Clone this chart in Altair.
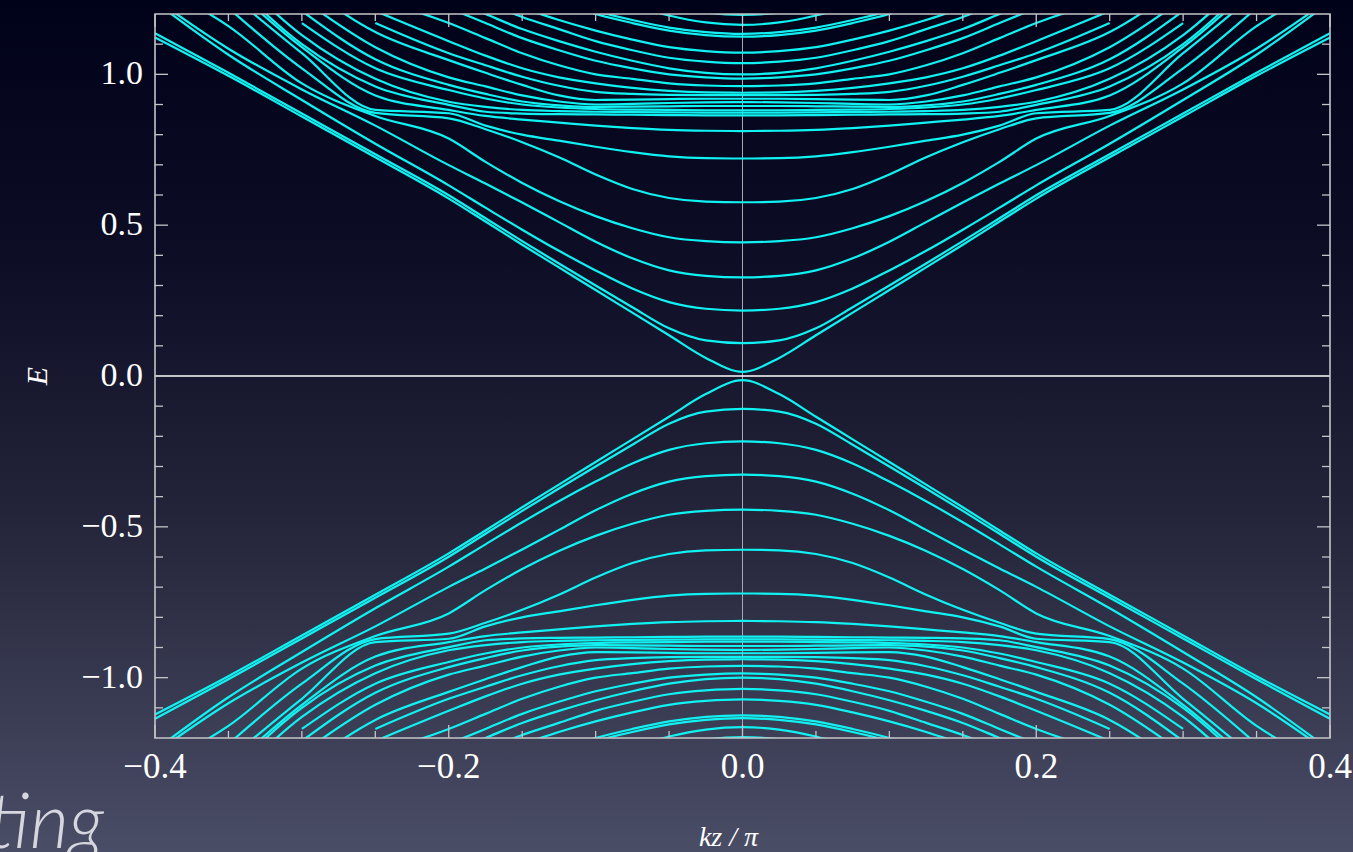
import altair as alt
import pandas as pd

# kz / pi sample points (the spectrum is mirrored to negative kz)
KZ = [0.0, 0.025, 0.05, 0.075, 0.1, 0.125, 0.15, 0.175, 0.2, 0.25, 0.3, 0.35, 0.4]

# Sorted positive eigen-energies at each KZ point (band n = n-th level above E = 0).
# The spectrum is particle-hole symmetric, so the negative branch is -E.
BANDS = [
    [0.014, 0.06, 0.135, 0.21, 0.285, 0.36, 0.435, 0.512, 0.588, 0.725, 0.86, 0.995, 1.122],
    [0.109, 0.118, 0.158, 0.228, 0.30, 0.373, 0.447, 0.523, 0.599, 0.735, 0.87, 1.005, 1.136],
    [0.217, 0.223, 0.245, 0.29, 0.35, 0.415, 0.485, 0.558, 0.632, 0.77, 0.915, 1.065, 1.24],
    [0.327, 0.332, 0.35, 0.39, 0.445, 0.51, 0.575, 0.638, 0.699, 0.83, 0.95, 1.085, 1.25],
    [0.443, 0.447, 0.46, 0.49, 0.53, 0.58, 0.64, 0.71, 0.787, 0.862, 0.97, 1.16, 1.3],
    [0.576, 0.578, 0.59, 0.62, 0.668, 0.725, 0.775, 0.818, 0.854, 0.872, 1.02, 1.22],
    [0.721, 0.722, 0.728, 0.742, 0.76, 0.78, 0.80, 0.83, 0.871, 0.882, 1.07, 1.27],
    [0.812, 0.813, 0.816, 0.822, 0.83, 0.84, 0.85, 0.862, 0.882, 0.93, 1.09, 1.3],
    [0.864, 0.864, 0.865, 0.866, 0.867, 0.868, 0.87, 0.876, 0.899, 0.96, 1.1, 1.32],
    [0.873, 0.873, 0.874, 0.875, 0.876, 0.878, 0.882, 0.892, 0.909, 0.985, 1.13, 1.35],
    [0.881, 0.881, 0.882, 0.883, 0.885, 0.89, 0.90, 0.92, 0.948, 1.02, 1.17],
    [0.895, 0.895, 0.894, 0.893, 0.892, 0.897, 0.91, 0.935, 0.965, 1.05, 1.21],
    [0.908, 0.907, 0.905, 0.902, 0.90, 0.91, 0.93, 0.96, 0.99, 1.09, 1.25],
    [0.919, 0.919, 0.918, 0.916, 0.915, 0.93, 0.965, 1.005, 1.047, 1.14, 1.3],
    [0.931, 0.931, 0.932, 0.935, 0.942, 0.962, 0.992, 1.03, 1.07, 1.17],
    [0.939, 0.94, 0.945, 0.955, 0.97, 0.99, 1.02, 1.062, 1.11, 1.21],
    [0.961, 0.963, 0.97, 0.985, 1.0, 1.03, 1.07, 1.12, 1.17, 1.25],
    [0.986, 0.99, 1.0, 1.02, 1.045, 1.08, 1.12, 1.17, 1.22],
    [1.000, 1.005, 1.02, 1.045, 1.075, 1.11, 1.15, 1.2, 1.25],
    [1.037, 1.042, 1.055, 1.08, 1.11, 1.15, 1.19, 1.24],
    [1.072, 1.077, 1.09, 1.115, 1.145, 1.18, 1.22, 1.26],
    [1.125, 1.13, 1.145, 1.17, 1.2, 1.24],
    [1.134, 1.14, 1.155, 1.18, 1.21, 1.25],
    [1.164, 1.172, 1.195, 1.23, 1.27],
    [1.197, 1.205, 1.23, 1.27],
]

X_LABELS = [-0.4, -0.2, 0.0, 0.2, 0.4]
X_MINOR = [-0.35, -0.3, -0.25, -0.15, -0.1, -0.05, 0.05, 0.1, 0.15, 0.25, 0.3, 0.35]
Y_LABELS = [-1.0, -0.5, 0.0, 0.5, 1.0]
Y_MINOR = [-1.1, -0.9, -0.8, -0.7, -0.6, -0.4, -0.3, -0.2, -0.1,
           0.1, 0.2, 0.3, 0.4, 0.6, 0.7, 0.8, 0.9, 1.1]

W, H = 1175, 724
CYAN = "#10f2f2"
FRAME = "#c4c4c8"
SERIF = "Liberation Serif"

rows = []
for n, levels in enumerate(BANDS):
    for sign, tag in ((1, "c"), (-1, "v")):
        pts = {}
        for k, e in zip(KZ, levels):
            pts[k] = sign * e
            pts[-k] = sign * e
        for k in sorted(pts):
            rows.append({"band": f"{tag}{n}", "kz": k, "E": pts[k]})
bands_df = pd.DataFrame(rows)


def fmt(v):
    return f"{v:.1f}".replace("-", "\u2212")


xs = alt.Scale(domain=[-0.4, 0.4], nice=False, zero=False)
ys = alt.Scale(domain=[-1.2, 1.2], nice=False, zero=False)

background = alt.Chart(pd.DataFrame({"a": [0]})).mark_rect(
    color=alt.LinearGradient(
        gradient="linear",
        stops=[
            alt.GradientStop(color="#00021a", offset=0),
            alt.GradientStop(color="#0d0e26", offset=0.3),
            alt.GradientStop(color="#232439", offset=0.6),
            alt.GradientStop(color="#4a4d66", offset=1),
        ],
        x1=0, x2=0, y1=0, y2=1,
    )
).encode(x=alt.value(-155), x2=alt.value(1198), y=alt.value(-14), y2=alt.value(838))

zero_v = alt.Chart(pd.DataFrame({"v": [0.0]})).mark_rule(
    color="#a8a8b4", strokeWidth=1
).encode(x=alt.X("v:Q", scale=xs, axis=None))
zero_h = alt.Chart(pd.DataFrame({"v": [0.0]})).mark_rule(
    color="#ffffff", strokeWidth=1.3
).encode(y=alt.Y("v:Q", scale=ys, axis=None))

lines = alt.Chart(bands_df).mark_line(
    color=CYAN, strokeWidth=2.2, interpolate="monotone", clip=True
).encode(
    x=alt.X("kz:Q", scale=xs, axis=None),
    y=alt.Y("E:Q", scale=ys, axis=None),
    detail="band:N",
    order="kz:Q",
)


def x_ticks(values, length):
    df = pd.DataFrame({"v": values})
    base = alt.Chart(df).mark_rule(color=FRAME, strokeWidth=1.3)
    bottom = base.encode(x=alt.X("v:Q", scale=xs, axis=None), y=alt.value(H), y2=alt.value(H - length))
    top = base.encode(x=alt.X("v:Q", scale=xs, axis=None), y=alt.value(0), y2=alt.value(length))
    return [bottom, top]


def y_ticks(values, length):
    df = pd.DataFrame({"v": values})
    base = alt.Chart(df).mark_rule(color=FRAME, strokeWidth=1.3)
    left = base.encode(y=alt.Y("v:Q", scale=ys, axis=None), x=alt.value(0), x2=alt.value(length))
    right = base.encode(y=alt.Y("v:Q", scale=ys, axis=None), x=alt.value(W), x2=alt.value(W - length))
    return [left, right]


frame = alt.Chart(pd.DataFrame({"a": [0]})).mark_rect(
    filled=False, stroke=FRAME, strokeWidth=1.6
).encode(x=alt.value(0), x2=alt.value(W), y=alt.value(0), y2=alt.value(H))

# tick labels
x_lab = alt.Chart(pd.DataFrame({"v": X_LABELS, "t": [fmt(v) for v in X_LABELS]})).mark_text(
    font=SERIF, fontSize=35, color="#ffffff", align="center", baseline="middle"
).encode(x=alt.X("v:Q", scale=xs, axis=None), y=alt.value(H + 29), text="t:N")

y_lab = alt.Chart(pd.DataFrame({"v": Y_LABELS, "t": [fmt(v) for v in Y_LABELS]})).mark_text(
    font=SERIF, fontSize=34, color="#ffffff", align="right", baseline="middle"
).encode(y=alt.Y("v:Q", scale=ys, axis=None), x=alt.value(-12), text="t:N")

# axis titles
x_title = alt.Chart(pd.DataFrame({"t": ["kz / π"]})).mark_text(
    font=SERIF, fontStyle="italic", fontSize=28, color="#ffffff", align="center", baseline="middle"
).encode(text="t:N", x=alt.value(W / 2 - 14), y=alt.value(H + 100))

y_title = alt.Chart(pd.DataFrame({"t": ["E"]})).mark_text(
    font=SERIF, fontStyle="italic", fontSize=30, color="#ffffff", align="center",
    baseline="middle", angle=270
).encode(text="t:N", x=alt.value(-117), y=alt.value(H / 2))

caption = alt.Chart(pd.DataFrame({"t": ["ting"]})).mark_text(
    font="Lato", fontStyle="italic", fontWeight=300, fontSize=76,
    color="#d6d7de", align="right", baseline="alphabetic",
).encode(text="t:N", x=alt.value(-51), y=alt.value(834))

layers = [background, zero_v, zero_h, lines, frame]
layers += x_ticks(X_LABELS, 13) + x_ticks(X_MINOR, 7)
layers += y_ticks(Y_LABELS, 13) + y_ticks(Y_MINOR, 8)
layers += [x_lab, y_lab, x_title, y_title, caption]

chart = alt.layer(*layers).properties(
    width=W, height=H,
    padding={"left": 155, "top": 14, "right": 23, "bottom": 114},
    autosize=alt.AutoSizeParams(type="none"),
    background="#00021a",
).configure_view(strokeWidth=0)

chart.save("out.html", embed_options={"renderer": "svg", "actions": False})
